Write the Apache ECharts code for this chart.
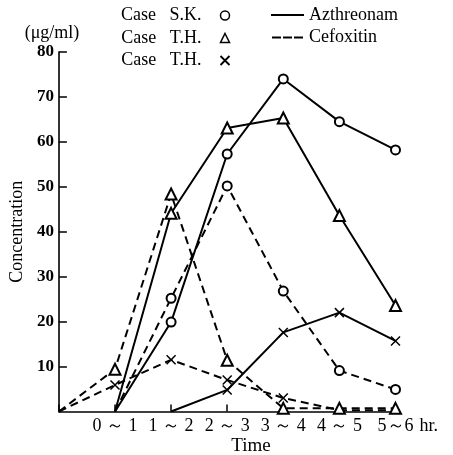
<!DOCTYPE html>
<html>
<head>
<meta charset="utf-8">
<script src="https://cdn.jsdelivr.net/npm/echarts@6/dist/echarts.min.js"></script>
<style>
  html, body { margin: 0; padding: 0; background: #fff; }
  #chart { width: 453px; height: 455px; }
</style>
</head>
<body>
<div id="chart"></div>
<script>
// Sampling intervals (hours); the first slot is the dosing origin.
const timeLabels = ['', '0 ～ 1', '1 ～ 2', '2 ～ 3', '3 ～ 4', '4 ～ 5', '5～6'];

// Concentration axis (µg/ml)
const yMin = 0;
const yMax = 80;
const yStep = 10;

// Azthreonam (solid lines)
const aztSK    = [null, 0, 19.9, 57.3, 74.0, 64.5, 58.2];
const aztTHtri = [null, 0, 44.1, 63.1, 65.3, 43.6, 23.6];
const aztTHx   = [null, null, 0, 4.8, 17.6, 22.0, 15.7];

// Cefoxitin (dashed lines)
const cefSK    = [null, 0, 25.2, 50.2, 26.8, 9.1, 4.9];
const cefTHtri = [0, 9.4, 48.4, 11.4, 0.7, 0.7, 0.7];
const cefTHx   = [0, 5.9, 11.5, 7.0, 3.0, 0.3, 0.3];

// Legend texts
const caseKeys   = ['sk', 'thTri', 'thX'];
const caseLabels = ['Case   S.K.', 'Case   T.H.', 'Case   T.H.'];
const drugNames  = ['Azthreonam', 'Cefoxitin'];

const FONT = '"Liberation Serif", "Times New Roman", serif';
const INK = '#000';

const markerCircle = 'emptyCircle';
const markerTri = 'emptyTriangle';
const markerX = 'path://M0,0L10,10M10,0L0,10';
const dashIcon = 'path://M0,0h9v2h-9zM11,0h9v2h-9zM22,0h9v2h-9z';

// Points at the baseline (start of a curve / below detection) carry no marker.
function curve(name, values, marker, size, dashed) {
  return {
    type: 'line',
    name: name,
    data: values.map(v => (v !== null && v < 0.5) ? { value: v, symbol: 'none' } : v),
    symbol: marker,
    symbolSize: size,
    showAllSymbol: true,
    connectNulls: false,
    lineStyle: { color: INK, width: 2, type: dashed ? [8, 5] : 'solid' },
    itemStyle: { color: INK, borderColor: INK, borderWidth: 1.5 },
    emphasis: { disabled: true },
    animation: false
  };
}

// Empty series that only feed the two legends.
function legendOnly(name) {
  return { type: 'line', name: name, data: [], symbol: 'none',
           lineStyle: { color: INK }, itemStyle: { color: INK } };
}

const caseIcons = [
  { icon: 'circle', itemStyle: { color: '#fff', borderColor: INK, borderWidth: 1.5 } },
  { icon: 'triangle', itemStyle: { color: '#fff', borderColor: INK, borderWidth: 1.5 } },
  { icon: markerX, itemStyle: { color: 'none', borderColor: INK, borderWidth: 1.8 } }
];

const option = {
  backgroundColor: '#fff',
  animation: false,
  grid: { left: 58.5, right: 57.5, top: 52, bottom: 43.5, containLabel: false },
  legend: [
    {
      orient: 'vertical', left: 121, top: 6.5, padding: 0,
      align: 'right', itemWidth: 9, itemHeight: 9, itemGap: 4.5,
      selectedMode: false,
      textStyle: { fontFamily: FONT, fontSize: 18, color: INK, lineHeight: 18, padding: [0, 14, 0, 0] },
      formatter: key => caseLabels[caseKeys.indexOf(key)],
      data: caseKeys.map((k, i) => Object.assign({ name: k }, caseIcons[i]))
    },
    {
      orient: 'vertical', left: 271, top: 6, padding: 0,
      align: 'left', itemWidth: 33, itemHeight: 2, itemGap: 4.5,
      selectedMode: false,
      textStyle: { fontFamily: FONT, fontSize: 18, color: INK, lineHeight: 18 },
      data: [
        { name: drugNames[0], icon: 'rect', itemStyle: { color: INK, borderWidth: 0 } },
        { name: drugNames[1], icon: dashIcon, itemStyle: { color: INK, borderWidth: 0 } }
      ]
    }
  ],
  xAxis: {
    type: 'category',
    data: timeLabels,
    boundaryGap: false,
    axisLine: { lineStyle: { color: INK, width: 1.6 } },
    axisTick: { inside: true, length: 7, interval: 0, lineStyle: { color: INK, width: 1.5 } },
    axisLabel: { color: INK, fontFamily: FONT, fontSize: 18, margin: 6, interval: 0 },
    splitLine: { show: false },
    name: 'hr.',
    nameLocation: 'end',
    nameGap: 18,
    nameTextStyle: { color: INK, fontFamily: FONT, fontSize: 18, verticalAlign: 'top', padding: [6, 0, 0, 0] }
  },
  yAxis: {
    type: 'value',
    min: yMin, max: yMax, interval: yStep,
    axisLine: { show: true, lineStyle: { color: INK, width: 1.6 } },
    axisTick: { show: true, inside: true, length: 8, lineStyle: { color: INK, width: 1.5 } },
    axisLabel: { color: INK, fontFamily: FONT, fontSize: 17, fontWeight: 'bold', margin: 5, showMinLabel: false },
    splitLine: { show: false },
    name: 'Concentration',
    nameLocation: 'middle',
    nameGap: 29,
    nameTextStyle: { color: INK, fontFamily: FONT, fontSize: 18 }
  },
  graphic: [
    { type: 'text', x: 52, y: 33,
      style: { text: '(μg/ml)', font: '18px ' + FONT, fill: INK, align: 'center', verticalAlign: 'middle' } },
    { type: 'text', x: 251, y: 446,
      style: { text: 'Time', font: '19px ' + FONT, fill: INK, align: 'center', verticalAlign: 'middle' } }
  ],
  series: [
    curve('Azthreonam S.K.', aztSK, markerCircle, 9, false),
    curve('Azthreonam T.H. (a)', aztTHtri, markerTri, 11, false),
    curve('Azthreonam T.H. (b)', aztTHx, markerX, 9, false),
    curve('Cefoxitin S.K.', cefSK, markerCircle, 9, true),
    curve('Cefoxitin T.H. (a)', cefTHtri, markerTri, 11, true),
    curve('Cefoxitin T.H. (b)', cefTHx, markerX, 9, true),
    legendOnly(caseKeys[0]),
    legendOnly(caseKeys[1]),
    legendOnly(caseKeys[2]),
    legendOnly(drugNames[0]),
    legendOnly(drugNames[1])
  ]
};

const chart = echarts.init(document.getElementById('chart'), null, { renderer: 'canvas' });
chart.setOption(option);
</script>
</body>
</html>
